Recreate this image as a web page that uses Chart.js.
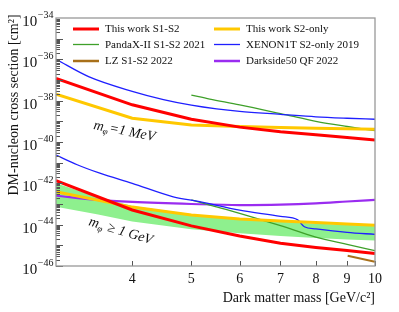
<!DOCTYPE html>
<html>
<head>
<meta charset="utf-8">
<script src="https://cdn.jsdelivr.net/npm/chart.js@4.4.0/dist/chart.umd.min.js"></script>
<style>
  html, body { margin: 0; padding: 0; background: #fff; }
  #wrap { width: 399px; height: 312px; }
</style>
</head>
<body>
<div id="wrap"><canvas id="chart" width="399" height="312"></canvas></div>
<script>
// values are log10(sigma / cm^2)
// m_phi = 1 MeV group
var s1s2LightMass = [3, 4, 5, 6, 7, 8, 9, 10];
var s1s2Light = [-36.92, -38.2, -38.9, -39.28, -39.5, -39.65, -39.78, -39.9];
var s2LightMass = [3, 4, 5, 6, 7, 8, 10];
var s2Light = [-37.69, -38.85, -39.18, -39.25, -39.3, -39.33, -39.38];
var pandaLightMass = [5, 5.36, 6, 7.16, 8, 9, 10];
var pandaLight = [-37.73, -37.92, -38.2, -38.69, -39.0, -39.25, -39.45];
var xenonLightMass = [3, 3.4, 4, 4.5, 5, 5.5, 6, 7, 8, 9, 10];
var xenonLight = [-36.0, -36.85, -37.55, -37.95, -38.22, -38.4, -38.52, -38.66, -38.78, -38.85, -38.9];

// m_phi >= 1 GeV group
var s1s2HeavyMass = [3, 4, 5, 6, 7, 8, 9, 10];
var s1s2Heavy = [-41.87, -43.29, -44.06, -44.55, -44.9, -45.1, -45.25, -45.39];
var s2HeavyMass = [3, 4, 5, 6, 7, 8, 9, 10];
var s2Heavy = [-42.4, -43.15, -43.53, -43.72, -43.82, -43.9, -43.97, -44.03];
var pandaHeavyMass = [5, 5.36, 6, 7, 8, 9, 10];
var pandaHeavy = [-42.8, -43.05, -43.45, -44.05, -44.6, -44.95, -45.26];
var xenonHeavyMass = [3, 3.25, 3.54, 4, 4.67, 5.16, 6, 7, 7.47, 7.66, 8, 9, 10];
var xenonHeavy = [-40.63, -41.1, -41.51, -42.0, -42.65, -42.89, -43.3, -43.6, -43.77, -44.1, -44.2, -44.37, -44.47];
var darksideMass = [3, 3.5, 4, 5, 6, 7, 8, 9, 10];
var darkside = [-42.6, -42.8, -42.9, -43.0, -43.05, -43.03, -42.97, -42.88, -42.8];
var lzMass = [9.02, 10];
var lz = [-45.5, -45.8];

// green band
var bandMass = [3, 3.5, 4, 5, 6, 7, 8, 9, 10];
var bandUpper = [-42.0, -42.65, -43.1, -43.5, -43.72, -43.86, -43.95, -44.0, -44.08];
var bandLower = [-43.13, -43.5, -43.85, -44.22, -44.42, -44.55, -44.65, -44.72, -44.77];

var xTicks = [4, 5, 6, 7, 8, 9, 10];
var yLabelExp = [-34, -36, -38, -40, -42, -44, -46];

var legendItems = [
    { label: "This work S1-S2", color: "#ff0000", width: 3, col: 0, row: 0 },
    { label: "PandaX-II S1-S2 2021", color: "#3fa02a", width: 1.3, col: 0, row: 1 },
    { label: "LZ S1-S2 2022", color: "#a8701a", width: 2.5, col: 0, row: 2 },
    { label: "This work S2-only", color: "#ffc800", width: 3, col: 1, row: 0 },
    { label: "XENON1T S2-only 2019", color: "#1f1fff", width: 1.3, col: 1, row: 1 },
    { label: "Darkside50 QF 2022", color: "#9a2cf0", width: 2.5, col: 1, row: 2 }
];

function pts(ms, logs) {
    return ms.map(function (m, i) { return { x: m, y: Math.pow(10, logs[i]) }; });
}

function line(data, color, width, smooth) {
    return {
        data: data,
        borderColor: color,
        borderWidth: width,
        pointRadius: 0,
        fill: false,
        cubicInterpolationMode: smooth ? "monotone" : "default",
        tension: 0,
        order: 0
    };
}

var serif = '"Liberation Serif", "DejaVu Serif", serif';

var decorPlugin = {
    id: "decor",
    afterDraw: function (chart) {
        var ctx = chart.ctx;
        var a = chart.chartArea;
        var xs = chart.scales.x, ys = chart.scales.y;
        ctx.save();

        // y ticks, inward
        ctx.strokeStyle = "#555";
        ctx.lineWidth = 1;
        for (var n = -46; n < -34; n++) {
            for (var k = 1; k <= 9; k++) {
                var py = Math.round(ys.getPixelForValue(k * Math.pow(10, n))) + 0.5;
                var len = k === 1 ? 7 : 4;
                ctx.beginPath();
                ctx.moveTo(a.left, py);
                ctx.lineTo(a.left + len, py);
                ctx.stroke();
            }
        }
        // x ticks
        xTicks.forEach(function (v) {
            var px = Math.round(xs.getPixelForValue(v)) + 0.5;
            ctx.beginPath();
            ctx.moveTo(px, a.bottom);
            ctx.lineTo(px, a.bottom - 5);
            ctx.stroke();
        });

        // frame
        ctx.strokeStyle = "#999";
        ctx.lineWidth = 1.3;
        ctx.strokeRect(a.left, a.top, a.right - a.left, a.bottom - a.top);

        // y tick labels
        ctx.fillStyle = "#111";
        yLabelExp.forEach(function (e) {
            var py = ys.getPixelForValue(Math.pow(10, e));
            var sup = "\u2212" + String(-e);
            ctx.font = "15px " + serif;
            var w1 = ctx.measureText("10").width;
            ctx.font = "10px " + serif;
            var w2 = ctx.measureText(sup).width;
            var x0 = a.left - 3 - w1 - w2;
            ctx.textAlign = "left";
            ctx.textBaseline = "alphabetic";
            ctx.font = "15px " + serif;
            ctx.fillText("10", x0, py + 8);
            ctx.font = "10px " + serif;
            ctx.fillText(sup, x0 + w1 + 0.5, py - 0.5);
        });

        // x tick labels
        ctx.font = "14px " + serif;
        ctx.textAlign = "center";
        ctx.textBaseline = "middle";
        xTicks.forEach(function (v) {
            ctx.fillText(String(v), xs.getPixelForValue(v), a.bottom + 13);
        });

        // axis titles
        ctx.textAlign = "right";
        ctx.fillText("Dark matter mass [GeV/c\u00b2]", a.right, a.bottom + 32);
        ctx.save();
        ctx.translate(14, 105);
        ctx.rotate(-Math.PI / 2);
        ctx.textAlign = "center";
        ctx.fillText("DM-nucleon cross section [cm\u00b2]", 0, 0);
        ctx.restore();

        // annotations
        function mphi(x, y, angle, rest) {
            ctx.save();
            ctx.translate(x, y);
            ctx.rotate(angle * Math.PI / 180);
            ctx.textAlign = "left";
            ctx.textBaseline = "alphabetic";
            ctx.font = "italic 14px " + serif;
            ctx.fillText("m", 0, 0);
            var w = ctx.measureText("m").width;
            ctx.font = "italic 9px " + serif;
            ctx.fillText("\u03c6", w, 3);
            var w2 = ctx.measureText("\u03c6").width;
            ctx.font = "italic 14px " + serif;
            ctx.fillText(rest, w + w2 + 1, 0);
            ctx.restore();
        }
        mphi(93, 129, 11, "=1 MeV");
        mphi(88, 225, 17, " \u2265 1 GeV");

        // legend
        ctx.font = "11px " + serif;
        ctx.textBaseline = "middle";
        ctx.textAlign = "left";
        var colX = [73, 214];
        var rowY = [29, 44.5, 61];
        legendItems.forEach(function (it) {
            var lx = colX[it.col], ly = rowY[it.row];
            ctx.strokeStyle = it.color;
            ctx.lineWidth = it.width;
            ctx.beginPath();
            ctx.moveTo(lx, ly);
            ctx.lineTo(lx + 26, ly);
            ctx.stroke();
            ctx.fillStyle = "#111";
            ctx.fillText(it.label, lx + 32, ly + 0.5);
        });

        ctx.restore();
    }
};

var bandUp = {
    data: pts(bandMass, bandUpper),
    borderWidth: 0,
    borderColor: "rgba(0,0,0,0)",
    backgroundColor: "#8ef08e",
    pointRadius: 0,
    fill: "+1",
    order: 10
};
var bandLow = {
    data: pts(bandMass, bandLower),
    borderWidth: 0,
    borderColor: "rgba(0,0,0,0)",
    pointRadius: 0,
    fill: false,
    order: 10
};

var ctx = document.getElementById("chart").getContext("2d");
var chart = new Chart(ctx, {
    type: "line",
    data: {
        datasets: [
            line(pts(s1s2LightMass, s1s2Light), "#ff0000", 3, false),
            line(pts(s1s2HeavyMass, s1s2Heavy), "#ff0000", 3, false),
            line(pts(s2LightMass, s2Light), "#ffc800", 3, false),
            line(pts(s2HeavyMass, s2Heavy), "#ffc800", 3, false),
            line(pts(xenonLightMass, xenonLight), "#1f1fff", 1.3, true),
            line(pts(xenonHeavyMass, xenonHeavy), "#1f1fff", 1.3, true),
            line(pts(pandaLightMass, pandaLight), "#3fa02a", 1.3, true),
            line(pts(pandaHeavyMass, pandaHeavy), "#3fa02a", 1.3, true),
            line(pts(darksideMass, darkside), "#9a2cf0", 2.2, true),
            line(pts(lzMass, lz), "#a8701a", 2, false),
            bandUp,
            bandLow
        ]
    },
    options: {
        responsive: false,
        animation: false,
        layout: { padding: { left: 56, top: 18, right: 24, bottom: 46 } },
        plugins: { legend: { display: false }, tooltip: { enabled: false } },
        scales: {
            x: { type: "logarithmic", min: 3, max: 10, display: false },
            y: { type: "logarithmic", min: 1e-46, max: 1e-34, display: false }
        }
    },
    plugins: [decorPlugin]
});
</script>
</body>
</html>
